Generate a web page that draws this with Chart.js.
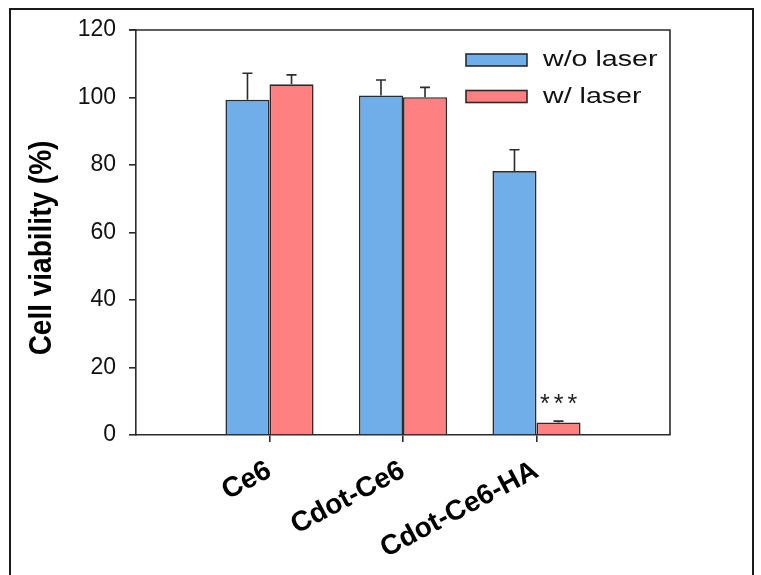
<!DOCTYPE html>
<html>
<head>
<meta charset="utf-8">
<script src="https://cdn.jsdelivr.net/npm/chart.js@4/dist/chart.umd.min.js"></script>
<style>
  body { margin: 0; background: #fff; }
  #wrap { position: relative; width: 761px; height: 575px; overflow: hidden; }
  #frame { position: absolute; left: 9px; top: 8px; width: 741px; height: 620px; border: 2px solid #1a1a1a; }
  canvas { position: absolute; left: 0; top: 0; }
</style>
</head>
<body>
<div id="wrap">
  <div id="frame"></div>
  <canvas id="viability" width="761" height="575"></canvas>
</div>
<script>
const categories = ['Ce6', 'Cdot-Ce6', 'Cdot-Ce6-HA'];
const noLaser = [99.3, 100.6, 78.2];
const noLaserErr = [7.9, 4.6, 6.3];
const withLaser = [103.9, 100.1, 3.7];
const withLaserErr = [2.8, 2.9, 0.4];
const yTicks = [0, 20, 40, 60, 80, 100, 120];

// one empty slot on each side so the groups sit at 1..3 of a 0..4 axis
const pad = arr => [null, ...arr, null];
const labels = ['', ...categories, ''];
const errors = [pad(noLaserErr), pad(withLaserErr)];
const FONT = '"Liberation Sans", Arial, sans-serif';
const INK = '#2b2b2b';

const extras = {
    id: 'extras',
    afterDatasetsDraw(chart) {
        const { ctx, chartArea: area, scales: { y } } = chart;
        ctx.save();

        // error bars (upper half only)
        ctx.strokeStyle = INK;
        ctx.lineWidth = 1.6;
        chart.data.datasets.forEach((ds, i) => {
            chart.getDatasetMeta(i).data.forEach((bar, j) => {
                const v = ds.data[j];
                if (v == null) return;
                const top = y.getPixelForValue(v + errors[i][j]);
                ctx.beginPath();
                ctx.moveTo(bar.x, bar.y);
                ctx.lineTo(bar.x, top);
                ctx.moveTo(bar.x - 5, top);
                ctx.lineTo(bar.x + 5, top);
                ctx.stroke();
            });
        });

        // significance mark above last laser bar
        const bar = chart.getDatasetMeta(1).data[3];
        ctx.fillStyle = '#222';
        ctx.font = '25px ' + FONT;
        ctx.letterSpacing = '4px';
        ctx.textAlign = 'center';
        ctx.textBaseline = 'middle';
        ctx.fillText('***', bar.x + 2, y.getPixelForValue(withLaser[2] + withLaserErr[2]) - 16);
        ctx.letterSpacing = '0px';

        // top and right frame of the plot
        ctx.strokeStyle = INK;
        ctx.lineWidth = 1.6;
        ctx.beginPath();
        ctx.moveTo(area.left - 7, area.top);
        ctx.lineTo(area.right, area.top);
        ctx.lineTo(area.right, area.bottom);
        ctx.stroke();

        // legend inside plot
        chart.data.datasets.forEach((ds, i) => {
            const cy = 60 + i * 36.5;
            ctx.fillStyle = ds.backgroundColor;
            ctx.fillRect(466, cy - 6, 61, 12);
            ctx.lineWidth = 1.6;
            ctx.strokeRect(466, cy - 6, 61, 12);
            ctx.save();
            ctx.translate(543, cy);
            ctx.scale(1.3, 1);
            ctx.fillStyle = '#111';
            ctx.font = '22px ' + FONT;
            ctx.textAlign = 'left';
            ctx.textBaseline = 'middle';
            ctx.fillText(ds.label, 0, 0);
            ctx.restore();
        });

        // y axis title
        ctx.translate(42, 248);
        ctx.scale(1.12, 1);
        ctx.rotate(-Math.PI / 2);
        ctx.font = 'bold 28px ' + FONT;
        ctx.fillStyle = '#000';
        ctx.textAlign = 'center';
        ctx.textBaseline = 'middle';
        ctx.fillText('Cell viability (%)', 0, 0);
        ctx.restore();
    }
};

new Chart(document.getElementById('viability').getContext('2d'), {
    type: 'bar',
    data: {
        labels: labels,
        datasets: [{
            label: 'w/o laser',
            data: pad(noLaser),
            backgroundColor: '#70aeea',
            borderColor: INK,
            borderWidth: 1.6,
        }, {
            label: 'w/ laser',
            data: pad(withLaser),
            backgroundColor: '#ff8080',
            borderColor: INK,
            borderWidth: 1.6,
        }],
    },
    options: {
        responsive: false,
        animation: false,
        layout: { padding: { left: 0, right: 91, top: 30, bottom: 0 } },
        datasets: { bar: { categoryPercentage: 0.66, barPercentage: 1.0 } },
        plugins: {
            legend: { display: false },
            tooltip: { enabled: false },
        },
        scales: {
            x: {
                offset: false,
                afterFit: (scale) => { scale.height = 140; },
                border: { display: true, color: INK, width: 1.6 },
                grid: {
                    offset: false,
                    drawOnChartArea: false,
                    tickLength: 7,
                    lineWidth: 1.6,
                    color: (c) => (c.index === 0 || c.index === labels.length - 1) ? 'rgba(0,0,0,0)' : INK,
                },
                ticks: {
                    autoSkip: false,
                    minRotation: 28,
                    maxRotation: 28,
                    padding: 12,
                    color: '#000',
                    font: { family: FONT, size: 28, weight: 'bold' },
                },
            },
            y: {
                min: 0,
                max: 120,
                afterFit: (scale) => { scale.width = 136; },
                afterBuildTicks: (scale) => { scale.ticks = yTicks.map(v => ({ value: v })); },
                border: { display: true, color: INK, width: 1.6 },
                grid: { drawOnChartArea: false, tickLength: 7, lineWidth: 1.6, color: INK },
                ticks: {
                    padding: 13,
                    color: '#111',
                    font: { family: FONT, size: 23 },
                },
            },
        },
    },
    plugins: [extras],
});
</script>
</body>
</html>
